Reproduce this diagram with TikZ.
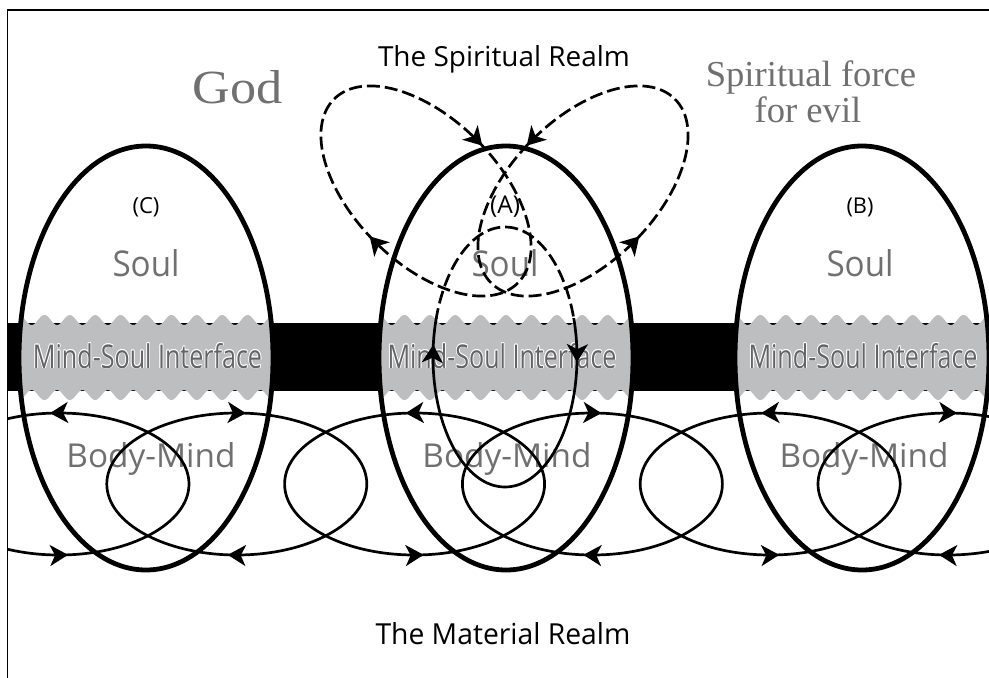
\documentclass[tikz,border=0pt]{standalone}
\usepackage{fontspec}
\setmainfont{Liberation Serif}
\newfontfamily\osans{Open Sans}
\usetikzlibrary{arrows.meta,decorations.markings}
\definecolor{txtgray}{RGB}{112,112,112}
\definecolor{msigray}{RGB}{100,100,102}
\definecolor{bandgray}{RGB}{189,190,192}
\tikzset{
  fwd/.style 2 args={postaction={decorate,decoration={markings,
      mark=at position #1 with {\arrow{Stealth[length=18pt,width=21pt,inset=5pt]}},
      mark=at position #2 with {\arrow{Stealth[length=18pt,width=21pt,inset=5pt]}}}}},
  bwd/.style 2 args={postaction={decorate,decoration={markings,
      mark=at position #1 with {\arrowreversed{Stealth[length=18pt,width=21pt,inset=5pt]}},
      mark=at position #2 with {\arrowreversed{Stealth[length=18pt,width=21pt,inset=5pt]}}}}},
  bigell/.style={line width=4.8pt},
  bmline/.style={line width=2.7pt},
  dashline/.style={line width=2.7pt,dash pattern=on 13pt off 5pt},
  lbl/.style={anchor=base,inner sep=0pt,outer sep=0pt},
  graylbl/.style={lbl,text=txtgray},
}
\newcommand\msitext{\resizebox{229pt}{25pt}{\osans\fontsize{30}{30}\selectfont Mind-Soul Interface}}
\newcommand\soultext{\resizebox{67pt}{27pt}{\osans\fontsize{30}{30}\selectfont Soul}}
\newcommand\bmtext{\resizebox{169pt}{25pt}{\osans\fontsize{30}{30}\selectfont Body-Mind}}
\begin{document}
\begin{tikzpicture}[x=1pt,y=-1pt]
\useasboundingbox (0,0) rectangle (989,678);
% frame
\draw[line width=1.5pt] (7.5,678) -- (7.5,10) -- (989,10);
\begin{scope}
\clip (7.5,10) rectangle (989,678);
% black band
\fill[black] (7.5,323) rectangle (989,391);
% gray wavy regions inside the three ellipses
\begin{scope}
\clip (146,358) ellipse (127 and 212) (506,358) ellipse (127 and 212) (862,358) ellipse (127 and 212);
\foreach \cx in {146,506,862}{
  \fill[bandgray] plot[domain={\cx-135}:{\cx+135},samples=220] (\x,{320-5*cos(((\x-\cx)/25.4)*360)})
    -- plot[domain={\cx+135}:{\cx-135},samples=220] (\x,{395+5*cos(((\x-\cx)/25.4)*360)}) -- cycle;
}
\end{scope}
% texts inside ellipses
\foreach \cx in {147.5,502,863}{
  \foreach \a in {0,45,...,315}
    \node[lbl,text=white,xshift={0.8*cos(\a)},yshift={0.8*sin(\a)}] at (\cx,368) {\msitext};
  \node[lbl,text=msigray] at (\cx,368) {\msitext};
}
\node[graylbl] (soulC) at (146,276) {\soultext};
\node[graylbl] (soulA) at (505,276) {\soultext};
\node[graylbl] (soulB) at (860,276) {\soultext};
\node[graylbl] (bmC) at (151,467) {\bmtext};
\node[graylbl] (bmA) at (507,467) {\bmtext};
\node[graylbl] (bmB) at (864,467) {\bmtext};
\node[lbl] (labC) at (146,213) {\resizebox{27pt}{!}{\osans (C)}};
\node[lbl] (labA) at (505,213) {\resizebox{30pt}{!}{\osans (A)}};
\node[lbl] (labB) at (860,213) {\resizebox{27pt}{!}{\osans (B)}};
% big ellipses
\draw[bigell] (146,358) ellipse (127 and 212);
\draw[bigell] (506,358) ellipse (127 and 212);
\draw[bigell] (862,358) ellipse (127 and 212);
% body-mind ellipses
\draw[bmline,bwd={0.236}{0.736}] (59,484) ellipse (130 and 71);
\draw[bmline,fwd={0.264}{0.764}] (236.8,484) ellipse (130 and 71);
\draw[bmline,bwd={0.236}{0.736}] (414.6,484) ellipse (130 and 71);
\draw[bmline,fwd={0.264}{0.764}] (592.4,484) ellipse (130 and 71);
\draw[bmline,bwd={0.236}{0.736}] (770.2,484) ellipse (130 and 71);
\draw[bmline,fwd={0.264}{0.764}] (948,484) ellipse (130 and 71);
% spiritual loops
\draw[dashline,rotate around={-45:(426,191)},fwd={0.262}{0.762}] (426,191) ellipse (130 and 72);
\draw[dashline,rotate around={45:(583,191)},bwd={0.238}{0.738}] (583,191) ellipse (130 and 72);
% inner oval of A
\begin{scope}
\clip (0,0) rectangle (989,318);
\draw[dashline] (505,357) ellipse (72 and 130);
\end{scope}
\begin{scope}
\clip (0,318) rectangle (989,678);
\draw[bmline] (505,357) ellipse (72 and 130);
\end{scope}
\path[bmline,fwd={0.008}{0.519}] (505,357) ellipse (72 and 130);
\end{scope}
% outer labels
\node[graylbl] (god) at (238,103) {\resizebox{90pt}{33pt}{God}};
\node[graylbl] (evil1) at (811,86) {\fontsize{36.6}{40}\selectfont Spiritual force};
\node[graylbl] (evil2) at (808,122) {\fontsize{36.6}{40}\selectfont for evil};
\node[lbl] (spirit) at (504,66) {\resizebox{252pt}{21pt}{\osans\fontsize{24}{24}\selectfont The Spiritual Realm}};
\node[lbl] (material) at (503,644) {\resizebox{255pt}{22pt}{\osans\fontsize{24}{24}\selectfont The Material Realm}};
\end{tikzpicture}
\end{document}
